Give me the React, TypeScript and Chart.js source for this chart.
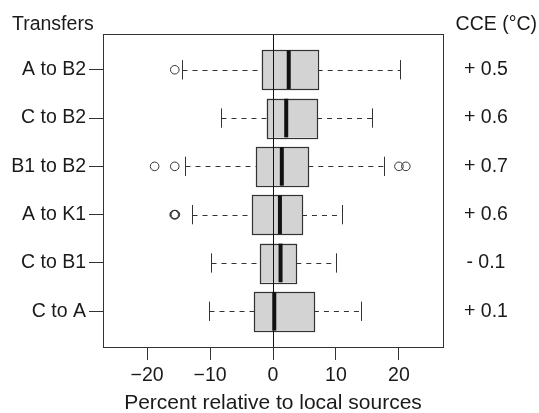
import React, { useEffect, useRef } from "react";
import { Chart, registerables } from "chart.js";

Chart.register(...registerables);

// Categories, top to bottom
const categories = ["A to B2", "C to B2", "B1 to B2", "A to K1", "C to B1", "C to A"];
const cceLabels = ["+ 0.5", "+ 0.6", "+ 0.7", "+ 0.6", "- 0.1", "+ 0.1"];

// Box statistics (percent relative to local sources)
const whiskerLow = [-14.5, -8.3, -13.9, -12.8, -9.9, -10.2];
const q1 = [-1.8, -1.0, -2.7, -3.3, -2.0, -3.0];
const medians = [2.5, 2.1, 1.4, 1.1, 1.2, 0.2];
const q3 = [7.1, 7.0, 5.6, 4.6, 3.7, 6.5];
const whiskerHigh = [20.1, 15.7, 17.7, 11.0, 9.95, 14.0];

// Outliers: category index and value
const outlierCat = [0, 2, 2, 2, 2, 3, 3, 3];
const outlierVal = [-15.6, -18.8, -15.6, 20.0, 21.1, -15.7, -15.6, -15.5];

const xTicks = [-20, -10, 0, 10, 20];

const FONT = "'Liberation Sans', Arial, Helvetica, sans-serif";
const FS = 19.5;
const TEXT = "#1a1a1a";
const LINE = "#333333";
const N = categories.length;
const pos = (i: number) => N - i;

const boxPlugin = {
  id: "boxes",
  beforeDatasetsDraw(chart: any) {
    const { ctx, scales, chartArea } = chart;
    const xs = scales.x;
    const ys = scales.y;
    const half = 0.4;
    ctx.save();
    for (let i = 0; i < N; i++) {
      const yc = Math.round(ys.getPixelForValue(pos(i))) + 0.5;
      const yt = ys.getPixelForValue(pos(i) + half);
      const yb = ys.getPixelForValue(pos(i) - half);
      const ys1 = ys.getPixelForValue(pos(i) + half / 2);
      const ys2 = ys.getPixelForValue(pos(i) - half / 2);
      const xl = xs.getPixelForValue(q1[i]);
      const xr = xs.getPixelForValue(q3[i]);
      const xm = xs.getPixelForValue(medians[i]);
      const wl = Math.round(xs.getPixelForValue(whiskerLow[i])) + 0.5;
      const wh = Math.round(xs.getPixelForValue(whiskerHigh[i])) + 0.5;
      // whiskers (dashed)
      ctx.strokeStyle = LINE;
      ctx.lineWidth = 1;
      ctx.setLineDash([5, 5]);
      ctx.beginPath();
      ctx.moveTo(wl, yc);
      ctx.lineTo(xl, yc);
      ctx.moveTo(xr, yc);
      ctx.lineTo(wh, yc);
      ctx.stroke();
      ctx.setLineDash([]);
      // staples
      ctx.beginPath();
      ctx.moveTo(wl, ys1);
      ctx.lineTo(wl, ys2);
      ctx.moveTo(wh, ys1);
      ctx.lineTo(wh, ys2);
      ctx.stroke();
      // box
      ctx.fillStyle = "#d3d3d3";
      ctx.fillRect(xl, yt, xr - xl, yb - yt);
      ctx.strokeStyle = LINE;
      ctx.lineWidth = 1.2;
      ctx.strokeRect(Math.round(xl) + 0.5, Math.round(yt) + 0.5, Math.round(xr - xl), Math.round(yb - yt));
      // median
      ctx.strokeStyle = "#111";
      ctx.lineWidth = 4;
      ctx.beginPath();
      ctx.moveTo(xm, yt);
      ctx.lineTo(xm, yb);
      ctx.stroke();
    }
    // zero reference line
    const x0 = Math.round(xs.getPixelForValue(0)) + 0.5;
    ctx.strokeStyle = "#111";
    ctx.lineWidth = 1;
    ctx.beginPath();
    ctx.moveTo(x0, chartArea.top);
    ctx.lineTo(x0, chartArea.bottom);
    ctx.stroke();
    ctx.restore();
  },
  afterDraw(chart: any) {
    const { ctx, chartArea } = chart;
    ctx.save();
    ctx.strokeStyle = LINE;
    ctx.lineWidth = 1;
    ctx.strokeRect(
      Math.round(chartArea.left) + 0.5,
      Math.round(chartArea.top) + 0.5,
      Math.round(chartArea.right - chartArea.left),
      Math.round(chartArea.bottom - chartArea.top)
    );
    ctx.fillStyle = TEXT;
    ctx.font = `${FS}px ${FONT}`;
    ctx.textBaseline = "alphabetic";
    ctx.textAlign = "left";
    ctx.fillText("Transfers", 12, 30);
    ctx.textAlign = "right";
    ctx.fillText("CCE (°C)", 537, 30);
    ctx.restore();
  },
};

export default function App() {
  const ref = useRef<HTMLCanvasElement>(null);
  useEffect(() => {
    if (!ref.current) return;
    const catTicks = (axis: any) => {
      axis.ticks = categories.map((_, i) => ({ value: pos(i) }));
    };
    const chart = new Chart(ref.current, {
      type: "scatter",
      data: {
        datasets: [
          {
            label: "Outliers",
            data: outlierVal.map((v, k) => ({ x: v, y: pos(outlierCat[k]) })),
            pointStyle: "circle",
            pointRadius: 4.3,
            borderWidth: 1,
            borderColor: LINE,
            backgroundColor: "rgba(0,0,0,0)",
          },
        ],
      },
      options: {
        animation: false,
        responsive: false,
        events: [],
        layout: { padding: { top: 34, left: 0, right: 0, bottom: 0 } },
        plugins: { legend: { display: false }, tooltip: { enabled: false } },
        scales: {
          x: {
            type: "linear",
            min: -27,
            max: 27,
            afterBuildTicks: (axis: any) => {
              axis.ticks = xTicks.map((v) => ({ value: v }));
            },
            afterFit: (s: any) => {
              s.height = 66;
            },
            border: { display: false },
            grid: { display: true, drawOnChartArea: false, drawTicks: true, tickLength: 13, color: LINE },
            ticks: {
              color: TEXT,
              font: { family: FONT, size: FS },
              padding: 4,
              maxRotation: 0,
              callback: (v: any) => (Number(v) < 0 ? "\u2212" + Math.abs(Number(v)) : String(v)),
            },
            title: {
              display: true,
              text: "Percent relative to local sources",
              color: TEXT,
              font: { family: FONT, size: 21, lineHeight: 0.9 },
              padding: { top: 0, bottom: 0 },
            },
          },
          y: {
            type: "linear",
            position: "left",
            min: 0.26,
            max: 6.74,
            afterBuildTicks: catTicks,
            afterFit: (s: any) => {
              s.width = 103;
            },
            border: { display: false },
            grid: { display: true, drawOnChartArea: false, drawTicks: true, tickLength: 14, color: LINE },
            ticks: {
              color: TEXT,
              font: { family: FONT, size: FS },
              padding: 3,
              callback: (v: any) => categories[N - Number(v)],
            },
          },
          yR: {
            type: "linear",
            position: "right",
            min: 0.26,
            max: 6.74,
            afterBuildTicks: catTicks,
            afterFit: (s: any) => {
              s.width = 96;
            },
            border: { display: false },
            grid: { display: false, drawTicks: false },
            ticks: {
              color: TEXT,
              font: { family: FONT, size: FS },
              padding: 21,
              crossAlign: "center",
              callback: (v: any) => cceLabels[N - Number(v)],
            },
          },
        },
      },
      plugins: [boxPlugin],
    } as any);
    return () => chart.destroy();
  }, []);
  return (
    <div style={{ position: "fixed", left: 0, top: 0, width: 539, height: 413, background: "#fff" }}>
      <canvas ref={ref} width={539} height={413} style={{ display: "block" }} />
    </div>
  );
}
